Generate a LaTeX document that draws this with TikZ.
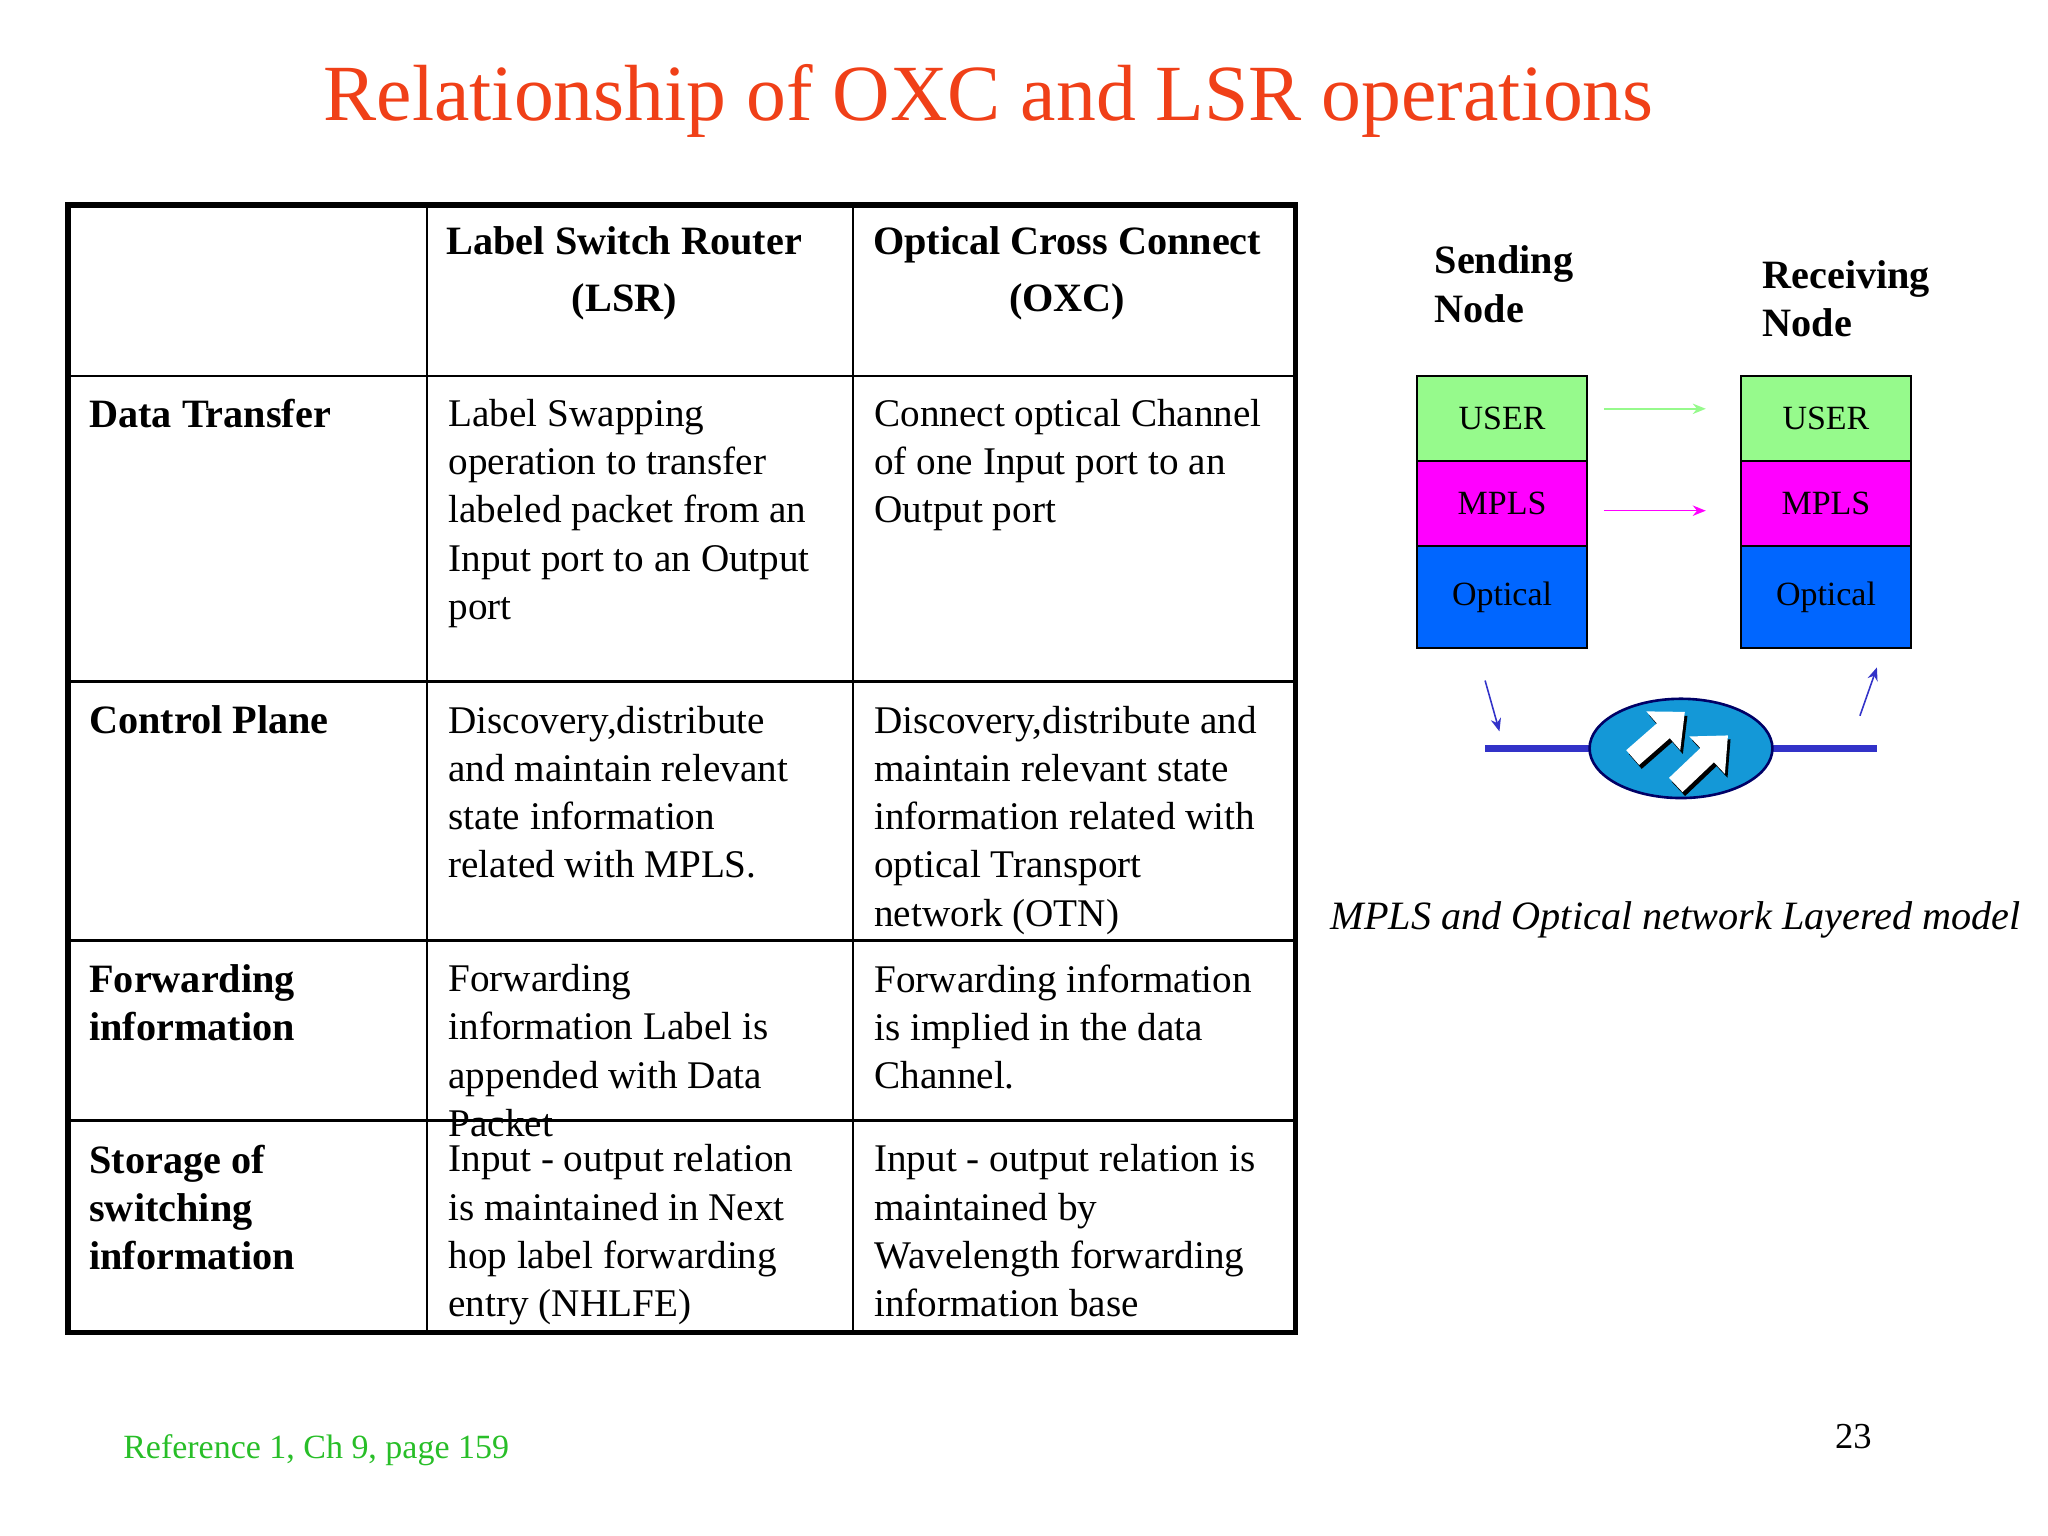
\documentclass[tikz,border=0pt]{standalone}
\usepackage{fontspec}
\setmainfont{Liberation Serif}
\usetikzlibrary{arrows.meta,shapes.geometric,calc}
\definecolor{ttl}{RGB}{240,64,24}
\definecolor{ugreen}{RGB}{150,250,140}
\definecolor{umag}{RGB}{255,0,255}
\definecolor{ublue}{RGB}{0,102,255}
\definecolor{lblue}{RGB}{50,50,200}
\definecolor{efill}{RGB}{20,152,215}
\definecolor{refg}{RGB}{40,190,40}
\begin{document}
\begin{tikzpicture}[x=0.5pt,y=-0.5pt,
 cell/.style={anchor=north west,inner sep=0pt,align=left,font=\fontsize{15}{18.5}\selectfont},
 hcell/.style={anchor=north,inner sep=0pt,align=center,font=\bfseries\fontsize{15.4}{22}\selectfont},
 rhead/.style={anchor=north west,inner sep=0pt,align=left,font=\bfseries\fontsize{15.4}{18.5}\selectfont},
 layer/.style={draw=black,line width=0.8pt,minimum width=65pt,font=\fontsize{13}{14}\selectfont,inner sep=0pt},
 thin/.style={line width=1pt},
 small/.style={-{Stealth[length=5pt,width=4pt]},line width=0.6pt},
 bigarr/.style={line width=7.5pt,-{Triangle[length=11pt,width=19pt]}}]
\useasboundingbox (0,0) rectangle (1568,1176);
\node[text=ttl,font=\fontsize{30.5}{36}\selectfont] (title) at (757,77) {Relationship of OXC and LSR operations};
% table
\draw[thin] (327,157) -- (327,1020) (653,157) -- (653,1020);
\draw[thin] (52,288) -- (992,288) (52,522) -- (992,522) (52,720) -- (992,720) (52,858) -- (992,858);
\draw[line width=2pt] (52,157) rectangle (992,1020);
\node[hcell] (h1) at (478,173) {Label Switch Router\\(LSR)};
\node[hcell] (h2) at (817,173) {Optical Cross Connect\\(OXC)};
\node[rhead] (r1) at (68,305) {Data Transfer};
\node[rhead] (r2) at (68,540) {Control Plane};
\node[rhead] (r3) at (68,738) {Forwarding\\information};
\node[rhead] (r4) at (68,876) {Storage of\\switching\\information};
\node[cell] (c11) at (343,305) {Label Swapping\\operation to transfer\\labeled packet from an\\Input port to an Output\\port};
\node[cell] (c12) at (669,305) {Connect optical Channel\\of one Input port to an\\Output port};
\node[cell] (c21) at (343,540) {Discovery,distribute\\and maintain relevant\\state information\\related with MPLS.};
\node[cell] (c22) at (669,540) {Discovery,distribute and\\maintain relevant state\\information related with\\optical Transport\\network (OTN)};
\node[cell] (c31) at (343,738) {Forwarding\\information Label is\\appended with Data\\Packet};
\node[cell] (c32) at (669,738) {Forwarding information\\is implied in the data\\Channel.};
\node[cell] (c41) at (343,876) {Input - output relation\\is maintained in Next\\hop label forwarding\\entry (NHLFE)};
\node[cell] (c42) at (669,876) {Input - output relation is\\maintained by\\Wavelength forwarding\\information base};
% right diagram
\node[rhead] (sn) at (1098,188) {Sending\\Node};
\node[rhead] (rn) at (1349,199) {Receiving\\Node};
\node[layer,fill=ugreen,minimum height=32.5pt] (su) at (1150,320.5) {USER};
\node[layer,fill=umag,minimum height=32.5pt] (sm) at (1150,385.5) {MPLS};
\node[layer,fill=ublue,minimum height=39pt] (so) at (1150,457) {Optical};
\node[layer,fill=ugreen,minimum height=32.5pt] (ru) at (1398,320.5) {USER};
\node[layer,fill=umag,minimum height=32.5pt] (rm) at (1398,385.5) {MPLS};
\node[layer,fill=ublue,minimum height=39pt] (ro) at (1398,457) {Optical};
\coordinate (ga) at (1228,313); \coordinate (gb) at (1306,313);
\coordinate (ma) at (1228,391); \coordinate (mb) at (1306,391);
\draw[small,draw=ugreen] (ga) -- (gb);
\draw[small,draw=umag] (ma) -- (mb);
\coordinate (l1) at (1137,573); \coordinate (l2) at (1437,573);
\draw[line width=2.5pt,draw=lblue] (l1) -- (l2);
\node[ellipse,draw=blue!40!black,line width=1pt,fill=efill,minimum width=70pt,minimum height=38pt,inner sep=0pt] (oxc) at (1287,573) {};
\coordinate (t1) at (1250,580); \coordinate (h1a) at (1290,545);
\coordinate (t2) at (1283,601); \coordinate (h2a) at (1323,563);
\draw[bigarr,black] ($(t1)+(2,3)$) -- ($(h1a)+(2,3)$);
\draw[bigarr,white] (t1) -- (h1a);
\draw[bigarr,black] ($(t2)+(2,3)$) -- ($(h2a)+(2,3)$);
\draw[bigarr,white] (t2) -- (h2a);
\coordinate (a1) at (1137,521); \coordinate (a2) at (1148,560);
\coordinate (b1) at (1424,548); \coordinate (b2) at (1437,511);
\draw[small,draw=lblue] (a1) -- (a2);
\draw[small,draw=lblue] (b1) -- (b2);
\node[font=\itshape\fontsize{15.4}{18}\selectfont,inner sep=0pt] (cap) at (1283,704) {MPLS and Optical network Layered model};
\node[text=refg,font=\fontsize{13}{14}\selectfont,anchor=west,inner sep=0pt] (ref) at (94,1110) {Reference 1, Ch 9, page 159};
\node[font=\fontsize{14}{16}\selectfont,inner sep=0pt] (pg) at (1419,1100) {23};
\end{tikzpicture}
\end{document}
